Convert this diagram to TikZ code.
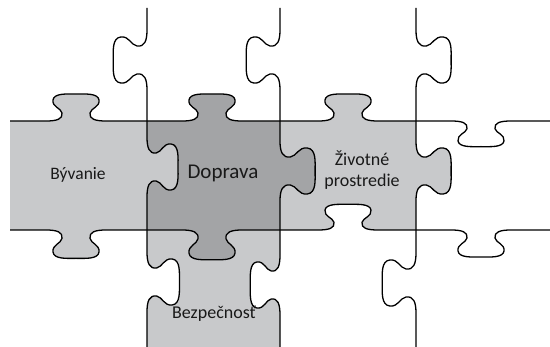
\documentclass[tikz,border=0pt]{standalone}
\usepackage{fontspec}
\setmainfont{Carlito}
\usepackage{tikz}
\definecolor{pieceLight}{RGB}{200,201,203}
\definecolor{pieceDark}{RGB}{163,164,166}
\definecolor{inkText}{RGB}{25,25,25}

% knob on a horizontal edge: {center x}{line y}{direction}{outward scale}
\newcommand{\hknob}[4]{%
 -- ({#1-30*(#3)},#2)
 .. controls ({#1-19*(#3)},#2) and ({#1-13*(#3)},{#2+2*(#4)}) .. ({#1-14*(#3)},{#2+8*(#4)})
 .. controls ({#1-15*(#3)},{#2+13*(#4)}) and ({#1-24*(#3)},{#2+14*(#4)}) .. ({#1-23*(#3)},{#2+21*(#4)})
 .. controls ({#1-22*(#3)},{#2+28*(#4)}) and ({#1-9*(#3)},{#2+27*(#4)}) .. (#1,{#2+27*(#4)})
 .. controls ({#1+9*(#3)},{#2+27*(#4)}) and ({#1+22*(#3)},{#2+28*(#4)}) .. ({#1+23*(#3)},{#2+21*(#4)})
 .. controls ({#1+24*(#3)},{#2+14*(#4)}) and ({#1+15*(#3)},{#2+13*(#4)}) .. ({#1+14*(#3)},{#2+8*(#4)})
 .. controls ({#1+13*(#3)},{#2+2*(#4)}) and ({#1+19*(#3)},#2) .. ({#1+30*(#3)},#2)}

% knob on a vertical edge: {center y}{line x}{direction}{outward scale}
\newcommand{\vknob}[4]{%
 -- (#2,{#1-30*(#3)})
 .. controls (#2,{#1-19*(#3)}) and ({#2+2*(#4)},{#1-13*(#3)}) .. ({#2+8*(#4)},{#1-14*(#3)})
 .. controls ({#2+13*(#4)},{#1-15*(#3)}) and ({#2+14*(#4)},{#1-24*(#3)}) .. ({#2+21*(#4)},{#1-23*(#3)})
 .. controls ({#2+28*(#4)},{#1-22*(#3)}) and ({#2+27*(#4)},{#1-9*(#3)}) .. ({#2+27*(#4)},#1)
 .. controls ({#2+27*(#4)},{#1+9*(#3)}) and ({#2+28*(#4)},{#1+22*(#3)}) .. ({#2+21*(#4)},{#1+23*(#3)})
 .. controls ({#2+14*(#4)},{#1+24*(#3)}) and ({#2+13*(#4)},{#1+15*(#3)}) .. ({#2+8*(#4)},{#1+14*(#3)})
 .. controls ({#2+2*(#4)},{#1+13*(#3)}) and (#2,{#1+19*(#3)}) .. (#2,{#1+30*(#3)})}

\begin{document}
\begin{tikzpicture}[x=1pt,y=-1pt,
    edge/.style={line width=1.3pt,black,line join=round},
    lbl/.style={text=inkText,font=\fontsize{17.5}{21}\selectfont}]

    \useasboundingbox[fill=white] (0,0) rectangle (550,347);

    % Piece Bývanie
    \fill[pieceLight] (10,121) \hknob{76}{121}{1}{-1} -- (147,121)
        \vknob{167}{147}{1}{1.15} -- (147,230)
        \hknob{76}{230}{-1}{1.05} -- (10,230) -- cycle;

    % Piece Doprava (dark)
    \fill[pieceDark] (147,121) \hknob{212}{121}{1}{-1} -- (280,121)
        \vknob{171}{280}{1}{1.3} -- (280,230)
        \hknob{212}{230}{-1}{1.1} -- (147,230)
        \vknob{167}{147}{-1}{1.15} -- cycle;

    % Piece Životné prostredie
    \fill[pieceLight] (280,121) \hknob{348}{121}{1}{-1} -- (416,121)
        \vknob{171}{416}{1}{1.3} -- (416,230)
        \hknob{348}{230}{-1}{-0.95} -- (280,230)
        \vknob{171}{280}{-1}{1.3} -- cycle;

    % Piece Bezpečnosť
    \fill[pieceLight] (147,230) \hknob{212}{230}{1}{1.1} -- (280,230)
        \vknob{285}{280}{1}{-1.1} -- (280,347) -- (147,347)
        \vknob{282}{147}{-1}{1.2} -- cycle;

    % Vertical cuts
    \draw[edge] (147,8) \vknob{60}{147}{1}{-1.25} \vknob{167}{147}{1}{1.15}
        \vknob{282}{147}{1}{1.2} -- (147,347);
    \draw[edge] (280,8) \vknob{60}{280}{1}{-1.25} \vknob{171}{280}{1}{1.3}
        \vknob{285}{280}{1}{-1.1} -- (280,347);
    \draw[edge] (416,8) \vknob{60}{416}{1}{1.3} \vknob{171}{416}{1}{1.3}
        \vknob{283}{416}{1}{-1.25} -- (416,347);

    % Horizontal cuts
    \draw[edge] (10,121) \hknob{76}{121}{1}{-1} \hknob{212}{121}{1}{-1}
        \hknob{348}{121}{1}{-1} \hknob{481}{121}{1}{0.95} -- (550,121);
    \draw[edge] (10,230) \hknob{76}{230}{1}{1.05} \hknob{212}{230}{1}{1.1}
        \hknob{348}{230}{1}{-0.95} \hknob{481}{230}{1}{1} -- (550,230);

    % Labels
    \node[lbl] (byvanie) at (78,175) {Bývanie};
    \node[lbl,font=\fontsize{21}{25}\selectfont] (doprava) at (223,173) {Doprava};
    \node[lbl,font=\fontsize{18}{21}\selectfont,align=center] (zivotne) at (362,170) {Životné\\prostredie};
    \node[lbl,font=\fontsize{18}{21}\selectfont] (bezpecnost) at (214,314) {Bezpečnosť};

\end{tikzpicture}
\end{document}
